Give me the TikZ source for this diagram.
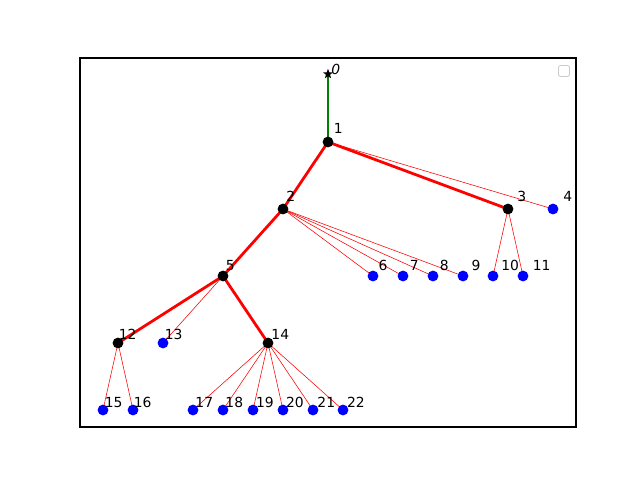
\documentclass[tikz,border=0pt]{standalone}
\usepackage{fontspec}
\setmainfont{DejaVu Sans}
\usetikzlibrary{shapes.geometric}
\begin{document}
\begin{tikzpicture}[x=0.72pt,y=-0.72pt,
  innernode/.style={circle,fill=black,inner sep=0pt,minimum size=7.8pt},
  leafnode/.style={circle,fill=blue,inner sep=0pt,minimum size=7.8pt},
  rootnode/.style={star,star points=5,star point ratio=2.4,fill=black,inner sep=0pt,minimum size=7.5pt},
  lbl/.style={anchor=base west,inner sep=0pt,font=\fontsize{10}{12}\selectfont},
  fineedge/.style={red,line width=0.4pt},
  treeedge/.style={red,line width=2pt},
  rootedge/.style={green!50!black,line width=1.3pt}]
\useasboundingbox (0,0) rectangle (640,480);
\fill[white] (0,0) rectangle (640,480);
% coordinates
\coordinate (c0) at (328,74);
\coordinate (c1) at (328,142);
\coordinate (c2) at (283,209);
\coordinate (c3) at (508,209);
\coordinate (c4) at (553,209);
\coordinate (c5) at (223,276);
\coordinate (c6) at (373,276);
\coordinate (c7) at (403,276);
\coordinate (c8) at (433,276);
\coordinate (c9) at (463,276);
\coordinate (c10) at (493,276);
\coordinate (c11) at (523,276);
\coordinate (c12) at (118,343);
\coordinate (c13) at (163,343);
\coordinate (c14) at (268,343);
\coordinate (c15) at (103,410);
\coordinate (c16) at (133,410);
\coordinate (c17) at (193,410);
\coordinate (c18) at (223,410);
\coordinate (c19) at (253,410);
\coordinate (c20) at (283,410);
\coordinate (c21) at (313,410);
\coordinate (c22) at (343,410);
% fine edges
\foreach \a/\b in {1/4,2/6,2/7,2/8,2/9,3/10,3/11,5/13,12/15,12/16,14/17,14/18,14/19,14/20,14/21,14/22}
  \draw[fineedge] (c\a) -- (c\b);
% tree edges
\foreach \a/\b in {1/2,1/3,2/5,5/12,5/14}
  \draw[treeedge] (c\a) -- (c\b);
\draw[rootedge] (c0) -- (c1);
% nodes
\node[rootnode] (n0) at (c0) {};
\foreach \i in {1,2,3,5,12,14}
  \node[innernode] (n\i) at (c\i) {};
\foreach \i in {4,6,7,8,9,10,11,13,15,16,17,18,19,20,21,22}
  \node[leafnode] (n\i) at (c\i) {};
% labels
\node[lbl,font=\fontsize{10}{12}\selectfont\itshape] (l0) at (331,74) {0};
\node[lbl] (l1) at (333.5,133) {1};
\node[lbl] (l2) at (286,201.7) {2};
\node[lbl] (l3) at (517,201.7) {3};
\node[lbl] (l4) at (563,201.7) {4};
\node[lbl] (l5) at (225.7,270.7) {5};
\node[lbl] (l6) at (378.3,270.7) {6};
\node[lbl] (l7) at (409.7,270.7) {7};
\node[lbl] (l8) at (439.7,270.7) {8};
\node[lbl] (l9) at (471.3,270.7) {9};
\node[lbl] (l10) at (501,270.7) {10};
\node[lbl] (l11) at (532.5,270.7) {11};
\node[lbl] (l12) at (118.5,339) {12};
\node[lbl] (l13) at (164.5,339) {13};
\node[lbl] (l14) at (271.2,339) {14};
\node[lbl] (l15) at (104.5,407) {15};
\node[lbl] (l16) at (133.5,407) {16};
\node[lbl] (l17) at (195.2,407) {17};
\node[lbl] (l18) at (225.2,407) {18};
\node[lbl] (l19) at (255.8,407) {19};
\node[lbl] (l20) at (285.8,407) {20};
\node[lbl] (l21) at (317.2,407) {21};
\node[lbl] (l22) at (346.8,407) {22};
% axes frame and empty legend
\draw[black,line width=0.75pt] (80,58) rectangle (576,427);
\draw[black!20,fill=white,line width=0.6pt,rounded corners=1.5pt] (558.5,65.5) rectangle (569.5,76.5);
\end{tikzpicture}
\end{document}
